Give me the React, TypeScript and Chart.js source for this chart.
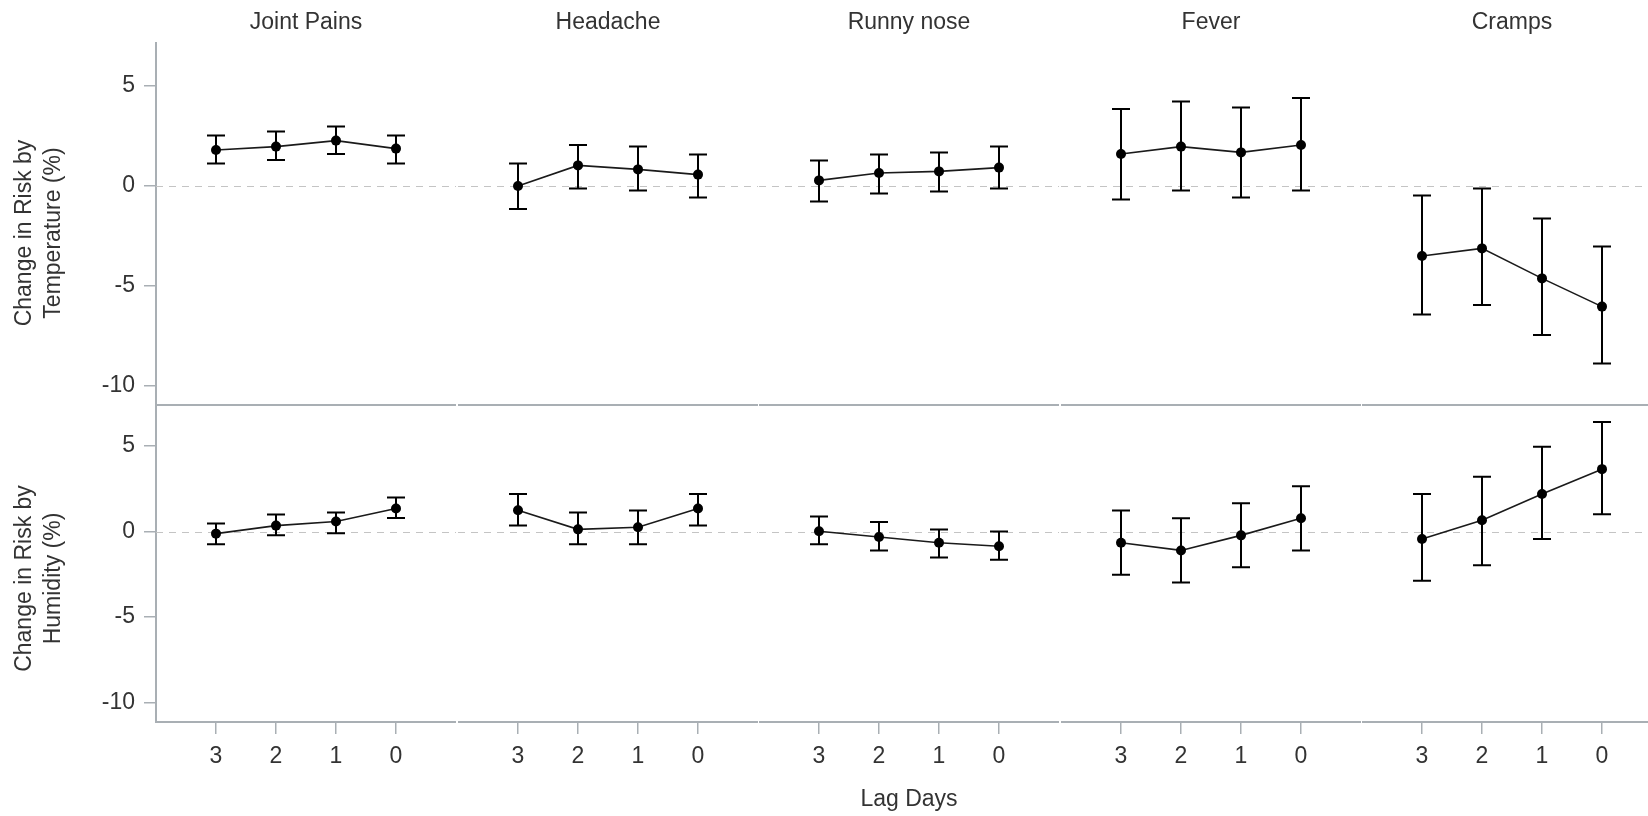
import React, { useEffect, useRef } from "react";
import { Chart, registerables } from "chart.js";

Chart.register(...registerables);

// ---------- data ----------
const symptoms = ["Joint Pains", "Headache", "Runny nose", "Fever", "Cramps"];
const lagDays = [3, 2, 1, 0];
const yTickValues = [-10, -5, 0, 5];
const rowLabels = [
  ["Change in Risk by", "Temperature (%)"],
  ["Change in Risk by", "Humidity (%)"],
];
const xAxisTitle = "Lag Days";

// Change in risk by temperature (%), per symptom, lag 3,2,1,0
const tempEstimate = [
  [1.8, 1.97, 2.27, 1.87],
  [0.0, 1.03, 0.83, 0.57],
  [0.28, 0.65, 0.73, 0.92],
  [1.6, 1.97, 1.68, 2.05],
  [-3.5, -3.12, -4.62, -6.03],
];
const tempLower = [
  [1.13, 1.3, 1.6, 1.13],
  [-1.15, -0.12, -0.22, -0.58],
  [-0.77, -0.38, -0.28, -0.12],
  [-0.68, -0.22, -0.58, -0.22],
  [-6.42, -5.95, -7.45, -8.87],
];
const tempUpper = [
  [2.52, 2.72, 2.98, 2.52],
  [1.12, 2.05, 1.97, 1.58],
  [1.28, 1.58, 1.68, 1.98],
  [3.85, 4.23, 3.93, 4.4],
  [-0.48, -0.12, -1.63, -3.03],
];

// Change in risk by humidity (%), per symptom, lag 3,2,1,0
const humEstimate = [
  [-0.12, 0.35, 0.59, 1.35],
  [1.25, 0.13, 0.25, 1.35],
  [0.02, -0.32, -0.65, -0.86],
  [-0.65, -1.1, -0.22, 0.78],
  [-0.43, 0.66, 2.2, 3.65],
];
const humLower = [
  [-0.74, -0.22, -0.1, 0.8],
  [0.35, -0.74, -0.74, 0.35],
  [-0.74, -1.1, -1.52, -1.64],
  [-2.52, -2.97, -2.09, -1.1],
  [-2.87, -1.97, -0.43, 1.01],
];
const humUpper = [
  [0.47, 1.0, 1.11, 1.99],
  [2.2, 1.11, 1.23, 2.2],
  [0.88, 0.56, 0.12, 0.0],
  [1.23, 0.78, 1.66, 2.65],
  [2.2, 3.2, 4.96, 6.4],
];

const yRangeTop = [-10.95, 7.15];
const yRangeBottom = [-11.13, 7.4];
const xRange = [-1, 4];

// ---------- style / layout ----------
const FONT_FAMILY = "'Liberation Sans', Arial, sans-serif";
const FONT_SIZE = 23;
const TEXT_COLOR = "#333333";
const AXIS_COLOR = "#a9afb4";
const ZERO_COLOR = "#c4c4c4";
const PANEL_LEFT = [156, 458, 759, 1061, 1362];
const PANEL_W = 300;
const Y_AXIS_W = 156;

type PanelProps = { row: number; col: number };

function Panel({ row, col }: PanelProps) {
  const ref = useRef<HTMLCanvasElement | null>(null);
  const isTop = row === 0;
  const width = col === 0 ? Y_AXIS_W + PANEL_W : PANEL_W;
  const left = col === 0 ? 0 : PANEL_LEFT[col];
  const top = isTop ? 0 : 380;
  const height = isTop ? 406 : 436;

  useEffect(() => {
    if (!ref.current) return;
    const est = isTop ? tempEstimate[col] : humEstimate[col];
    const lo = isTop ? tempLower[col] : humLower[col];
    const hi = isTop ? tempUpper[col] : humUpper[col];
    const yr = isTop ? yRangeTop : yRangeBottom;
    const font = { family: FONT_FAMILY, size: FONT_SIZE, weight: "normal" as const };

    const errorBars = {
      id: "errorBars",
      beforeDatasetsDraw(chart: any) {
        const { ctx, chartArea, scales } = chart;
        const x = scales.x;
        const y = scales.y;
        ctx.save();
        ctx.strokeStyle = ZERO_COLOR;
        ctx.lineWidth = 1;
        ctx.setLineDash([7, 6]);
        const y0 = Math.round(y.getPixelForValue(0)) + 0.5;
        ctx.beginPath();
        ctx.moveTo(chartArea.left, y0);
        ctx.lineTo(chartArea.right, y0);
        ctx.stroke();
        ctx.setLineDash([]);
        ctx.strokeStyle = "#000000";
        ctx.lineWidth = 2;
        lagDays.forEach((lag, i) => {
          const px = x.getPixelForValue(lag);
          const pl = y.getPixelForValue(lo[i]);
          const ph = y.getPixelForValue(hi[i]);
          ctx.beginPath();
          ctx.moveTo(px, pl);
          ctx.lineTo(px, ph);
          ctx.moveTo(px - 9, pl);
          ctx.lineTo(px + 9, pl);
          ctx.moveTo(px - 9, ph);
          ctx.lineTo(px + 9, ph);
          ctx.stroke();
        });
        ctx.restore();
      },
    };

    const rowLabel = {
      id: "rowLabel",
      afterDraw(chart: any) {
        if (col !== 0) return;
        const { ctx, chartArea } = chart;
        const lines = rowLabels[row];
        const cy = (chartArea.top + chartArea.bottom) / 2 + (isTop ? 9 : 15);
        ctx.save();
        ctx.fillStyle = TEXT_COLOR;
        ctx.font = `${FONT_SIZE}px ${FONT_FAMILY}`;
        ctx.textAlign = "center";
        ctx.textBaseline = "middle";
        const xs = [25, 54];
        lines.forEach((t, i) => {
          ctx.save();
          ctx.translate(xs[i], cy);
          ctx.rotate(-Math.PI / 2);
          ctx.fillText(t, 0, 0);
          ctx.restore();
        });
        ctx.restore();
      },
    };

    const chart = new Chart(ref.current, {
      type: "line",
      data: {
        datasets: [
          {
            data: lagDays.map((lag, i) => ({ x: lag, y: est[i] })),
            borderColor: "#1a1a1a",
            borderWidth: 1.6,
            pointRadius: 5,
            pointBackgroundColor: "#000000",
            pointBorderColor: "#000000",
            pointBorderWidth: 0,
            tension: 0,
          },
        ],
      },
      options: {
        animation: false,
        responsive: false,
        maintainAspectRatio: false,
        devicePixelRatio: 1,
        layout: {
          autoPadding: false,
          padding: { top: isTop ? 0 : 25, left: 0, right: 0, bottom: 0 },
        },
        plugins: {
          legend: { display: false },
          tooltip: { enabled: false },
          title: isTop
            ? {
                display: true,
                text: symptoms[col],
                fullSize: false,
                font,
                color: TEXT_COLOR,
                padding: { top: 9.2, bottom: 6.2 },
              }
            : { display: false },
        },
        scales: {
          x: {
            type: "linear",
            min: xRange[0],
            max: xRange[1],
            reverse: true,
            afterBuildTicks: (s: any) => {
              s.ticks = lagDays.map((v) => ({ value: v }));
            },
            afterFit: (s: any) => {
              s.height = isTop ? 1 : 94;
              s.paddingLeft = 0;
              s.paddingRight = 0;
            },
            grid: {
              drawOnChartArea: false,
              drawTicks: !isTop,
              tickLength: 12,
              color: AXIS_COLOR,
              lineWidth: 1.5,
            },
            border: { display: true, color: AXIS_COLOR, width: 2 },
            ticks: {
              display: !isTop,
              padding: 9,
              font,
              color: TEXT_COLOR,
              maxRotation: 0,
              autoSkip: false,
            },
            title:
              !isTop && col === 2
                ? {
                    display: true,
                    text: xAxisTitle,
                    font,
                    color: TEXT_COLOR,
                    padding: { top: 0, bottom: 3 },
                  }
                : { display: false },
          },
          y: {
            type: "linear",
            display: col === 0,
            min: yr[0],
            max: yr[1],
            afterBuildTicks: (s: any) => {
              s.ticks = yTickValues.map((v) => ({ value: v }));
            },
            afterFit: (s: any) => {
              s.width = col === 0 ? Y_AXIS_W : 0;
              s.paddingTop = 0;
              s.paddingBottom = 0;
            },
            grid: {
              drawOnChartArea: false,
              drawTicks: true,
              tickLength: 12,
              color: AXIS_COLOR,
              lineWidth: 1.5,
            },
            border: { display: true, color: AXIS_COLOR, width: 2 },
            ticks: { padding: 9, font, color: TEXT_COLOR, autoSkip: false },
          },
        },
      } as any,
      plugins: [errorBars, rowLabel],
    });
    return () => chart.destroy();
  }, [row, col]);

  return (
    <canvas
      ref={ref}
      width={width}
      height={height}
      style={{ position: "absolute", left, top, width, height, display: "block" }}
    />
  );
}

export default function App() {
  const panels = [];
  for (let r = 0; r < 2; r++) {
    for (let c = 0; c < symptoms.length; c++) {
      panels.push(<Panel key={`${r}-${c}`} row={r} col={c} />);
    }
  }
  return (
    <div
      style={{
        position: "absolute",
        left: 0,
        top: 0,
        width: 1648,
        height: 816,
        overflow: "hidden",
        background: "#ffffff",
      }}
    >
      {panels}
    </div>
  );
}
